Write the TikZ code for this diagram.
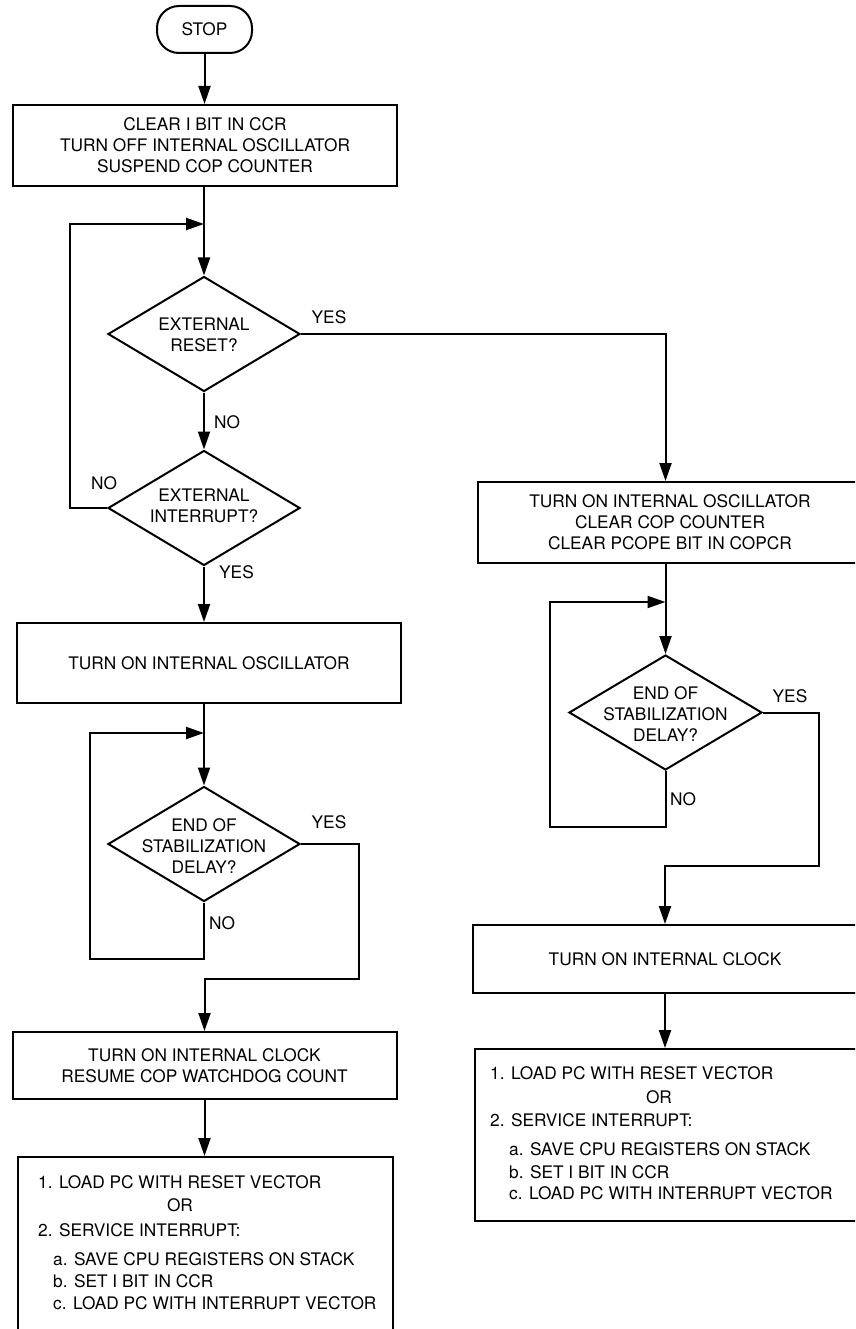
\documentclass[tikz,border=0pt]{standalone}
\usepackage{fontspec}
\setmainfont{TeX Gyre Heros}
\usetikzlibrary{shapes.geometric,arrows.meta}
\begin{document}
\begin{tikzpicture}[x=1pt,y=-1pt,
  every node/.style={font=\fontsize{17.3}{21}\selectfont},
  ln/.style={line width=2pt},
  arr/.style={ln,-{Triangle[length=18pt,width=12pt]}},
  box/.style={draw,ln,rectangle,align=center,inner sep=0pt,minimum width=384pt},
  dec/.style={draw,ln,diamond,inner sep=0pt,minimum width=192pt,minimum height=115pt},
  dtext/.style={align=center,inner sep=0pt},
  lbl/.style={inner sep=0pt},
  item/.style={anchor=base west,inner sep=0pt}]
\useasboundingbox (0,0) rectangle (855,1329);
\clip (0,0) rectangle (855,1329);

% left column
\node[box,rounded corners=22pt,minimum width=95pt,minimum height=47pt] (stop) at (204.5,29.5) {STOP};
\node[box,minimum height=81pt] (b1) at (205,145.5) {CLEAR I BIT IN CCR\\TURN OFF INTERNAL OSCILLATOR\\SUSPEND COP COUNTER};
\node[dec] (d1) at (204,334) {};
\node[dtext] (d1t) at (204,335) {EXTERNAL\\RESET?};
\node[dec] (d2) at (204,508) {};
\node[dtext] (d2t) at (204,506) {EXTERNAL\\INTERRUPT?};
\node[box,minimum height=80pt] (b2) at (209,663) {TURN ON INTERNAL OSCILLATOR};
\node[dec] (d3) at (204,844) {};
\node[dtext] (d3t) at (204,846) {END OF\\STABILIZATION\\DELAY?};
\node[box,minimum height=67pt] (b3) at (204.5,1065.5) {TURN ON INTERNAL CLOCK\\RESUME COP WATCHDOG COUNT};
\node[box,minimum width=375pt,minimum height=190pt] (b4) at (205.5,1252) {};
\node[item] (b4i1) at (38,1188) {1. LOAD PC WITH RESET VECTOR};
\node[anchor=base,inner sep=0pt] (b4or) at (180,1211) {OR};
\node[item] (b4i2) at (38,1236) {2. SERVICE INTERRUPT:};
\node[item] (b4a) at (53,1265) {a. SAVE CPU REGISTERS ON STACK};
\node[item] (b4b) at (53,1287) {b. SET I BIT IN CCR};
\node[item] (b4c) at (53,1309) {c. LOAD PC WITH INTERRUPT VECTOR};

% right column
\node[box,minimum height=81pt] (r1) at (670,522.5) {TURN ON INTERNAL OSCILLATOR\\CLEAR COP COUNTER\\CLEAR PCOPE BIT IN COPCR};
\node[dec,minimum width=193pt] (d4) at (665.5,712.5) {};
\node[dtext] (d4t) at (665.5,714) {END OF\\STABILIZATION\\DELAY?};
\node[box,minimum height=68pt] (r2) at (665,959) {TURN ON INTERNAL CLOCK};
\node[box,minimum width=390pt,minimum height=172pt] (r3) at (670,1135) {};
\node[item] (r3i1) at (490,1079) {1. LOAD PC WITH RESET VECTOR};
\node[anchor=base,inner sep=0pt] (r3or) at (659,1103) {OR};
\node[item] (r3i2) at (490,1126) {2. SERVICE INTERRUPT:};
\node[item] (r3a) at (509,1155) {a. SAVE CPU REGISTERS ON STACK};
\node[item] (r3b) at (509,1178) {b. SET I BIT IN CCR};
\node[item] (r3c) at (509,1199) {c. LOAD PC WITH INTERRUPT VECTOR};

% labels
\node[lbl] (y1) at (329,317) {YES};
\node[lbl,anchor=west] (n1) at (214,422) {NO};
\node[lbl] (n2) at (104,483) {NO};
\node[lbl,anchor=west] (y2) at (219,572) {YES};
\node[lbl] (y3l) at (329,822) {YES};
\node[lbl,anchor=west] (n3) at (209,923) {NO};
\node[lbl] (y4l) at (790,696) {YES};
\node[lbl,anchor=west] (n4) at (670,799) {NO};

% junction coordinates
\coordinate (j1) at (204,224);
\coordinate (l1) at (70,224);
\coordinate (j2) at (204,733);
\coordinate (l2) at (90,733);
\coordinate (l2b) at (90,959);
\coordinate (y3) at (359,979);
\coordinate (j4) at (665.5,602);
\coordinate (l4) at (550,602);
\coordinate (l4b) at (550,827);
\coordinate (y4) at (819,866);

% connectors
\draw[arr] (stop) -- (stop |- b1.north);
\draw[arr] (d1.north |- b1.south) -- (d1.north);
\draw[arr] (d2.west) -| (l1) -- (j1);
\draw[arr] (d1.south) -- (d2.north);
\draw[arr] (d1.east) -| (d4.north |- r1.north);
\draw[arr] (d2.south) -- (d2.south |- b2.north);
\draw[arr] (d3.north |- b2.south) -- (d3.north);
\draw[arr] (d3.south) |- (l2b) -- (l2) -- (j2);
\draw[arr] (d3.east) -| (y3) -| (b3.north);
\draw[arr] (b3.south) -- (b3.south |- b4.north);
\draw[arr] (d4.north |- r1.south) -- (d4.north);
\draw[arr] (d4.south) |- (l4b) -- (l4) -- (j4);
\draw[arr] (d4.east) -| (y4) -| (r2.north);
\draw[arr] (r2.south) -- (r2.south |- r3.north);
\end{tikzpicture}
\end{document}
